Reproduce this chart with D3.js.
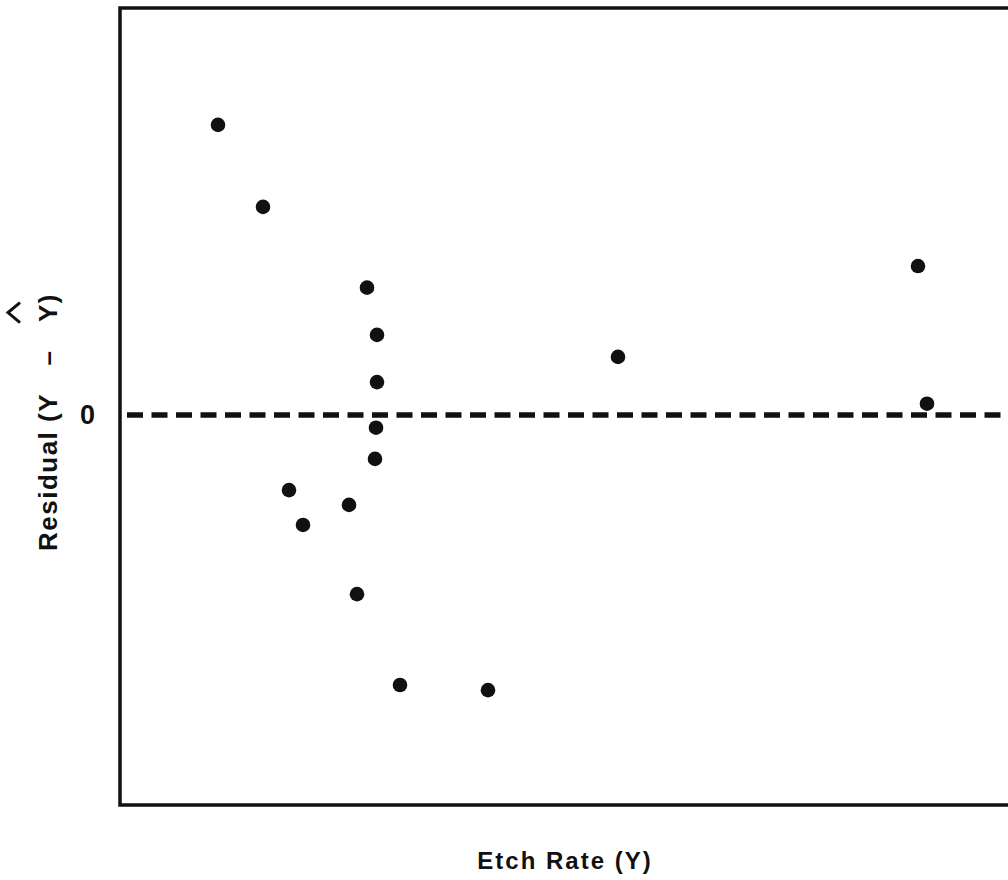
<!DOCTYPE html>
<html>
<head>
<meta charset="utf-8">
<script src="https://cdn.jsdelivr.net/npm/d3@7"></script>
<style>
  body { margin: 0; background: #fff; }
  svg text { font-family: "Liberation Sans", Arial, sans-serif; font-weight: bold; fill: #111; }
</style>
</head>
<body>
<div id="chart"></div>
<script>
var totWidth = 1008;
var totHeight = 880;

//-- Data (arbitrary units, no x ticks shown)
var etchRate = [9.8, 14.3, 24.7, 25.7, 25.7, 25.6, 25.5, 16.9, 18.3, 22.9, 23.7, 28.0, 36.8, 49.8, 79.8, 80.7];
var residual = [7.25, 5.2, 3.18, 2.0, 0.82, -0.32, -1.1, -1.88, -2.75, -2.25, -4.48, -6.75, -6.88, 1.45, 3.72, 0.28];
var yTicks = [0];
var yTickLabels = ["0"];

//-- Dimension & margin (right side of frame runs off the page)
var margin = {top: 8, right: -4, bottom: 75, left: 120},
    width = totWidth - margin.left - margin.right,
    height = totHeight - margin.top - margin.bottom;

var svg = d3.select("#chart")
  .append("svg")
    .attr("width", totWidth)
    .attr("height", totHeight)
  .append("g")
    .attr("transform", "translate(" + margin.left + "," + margin.top + ")");

//-- Scales
var x = d3.scaleLinear()
  .domain([0, 89.2])
  .range([0, width]);

var y = d3.scaleLinear()
  .domain([-9.75, 10.17])
  .range([height, 0]);

//-- Zero reference line
svg.append("line")
  .attr("x1", 7)
  .attr("x2", width)
  .attr("y1", y(0))
  .attr("y2", y(0))
  .style("stroke", "#111")
  .style("stroke-width", 5.5)
  .style("stroke-dasharray", "16,8.5");

//-- Frame
svg.append("rect")
  .attr("x", 0)
  .attr("y", 0)
  .attr("width", width)
  .attr("height", height)
  .style("fill", "none")
  .style("stroke", "#111")
  .style("stroke-width", 3.5);

//-- y-axis: only the zero tick label
var yAxis = d3.axisLeft(y)
  .tickValues(yTicks)
  .tickSize(0)
  .tickPadding(25)
  .tickFormat(function(d, i){ return yTickLabels[i]; });

var gy = svg.append("g").call(yAxis);
gy.select(".domain").remove();
gy.selectAll("text")
  .style("font-size", "27px")
  .style("font-family", "\"Liberation Sans\", Arial, sans-serif")
  .style("font-weight", "bold")
  .attr("fill", "#111");

//-- Points
svg.selectAll("circle")
  .data(etchRate)
  .enter()
  .append("circle")
    .attr("cx", function(d){ return x(d); })
    .attr("cy", function(d, i){ return y(residual[i]); })
    .attr("r", 7.3)
    .style("fill", "#111");

//-- Axis titles
svg.append("text")
  .attr("x", 565 - margin.left)
  .attr("y", 869 - margin.top)
  .attr("text-anchor", "middle")
  .style("font-size", "24px")
  .style("letter-spacing", "2px")
  .text("Etch Rate (Y)");

var yTitle = svg.append("g")
  .attr("transform", "translate(" + (57 - margin.left) + "," + (422 - margin.top) + ") rotate(-90)");

var yText = yTitle.append("text")
  .attr("x", 0)
  .attr("y", 0)
  .attr("text-anchor", "middle")
  .style("font-size", "26px")
  .style("letter-spacing", "1.5px")
  .text("Residual (Y\u2003\u2013\u2003Y)");

// hat over the second Y
var label = yText.text();
var idx = label.lastIndexOf("Y");
var box = yText.node().getExtentOfChar(idx);
var cx = box.x + box.width / 2;
yTitle.append("path")
  .attr("d", d3.line()([[cx - 10, -37], [cx, -49], [cx + 10, -37]]))
  .style("fill", "none")
  .style("stroke", "#111")
  .style("stroke-width", 3);
</script>
</body>
</html>
